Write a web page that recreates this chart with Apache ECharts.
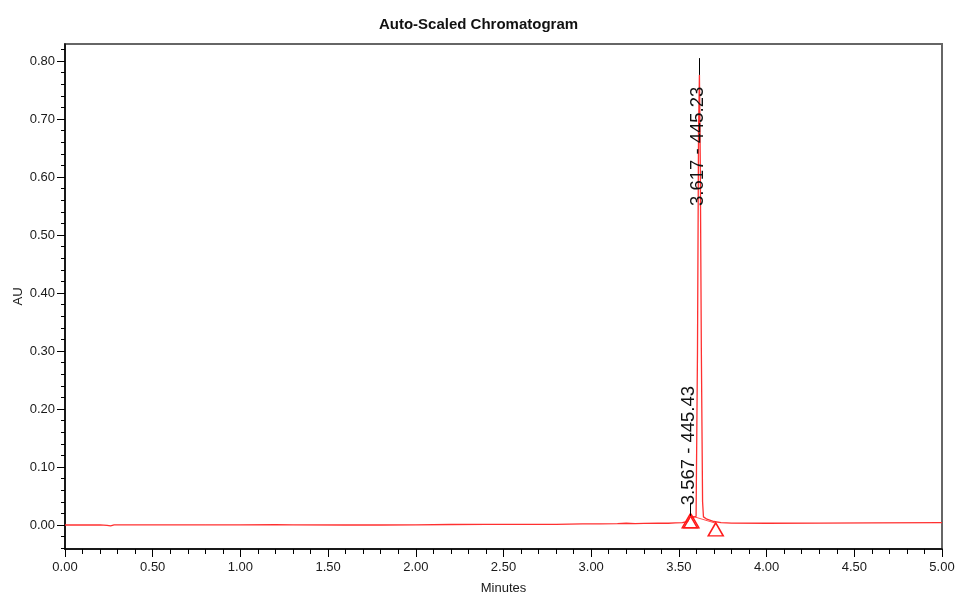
<!DOCTYPE html>
<html>
<head>
<meta charset="utf-8">
<script src="https://cdn.jsdelivr.net/npm/echarts@6/dist/echarts.min.js"></script>
<style>
  html, body { margin: 0; padding: 0; background: #fff; }
  #chart { width: 957px; height: 594px; }
</style>
</head>
<body>
<div id="chart"></div>
<script>
// chromatogram trace (minutes, AU)
var trace = [
    [0.00, 0.0000], [0.10, 0.0000], [0.20, 0.0002], [0.24, -0.0005], [0.26, -0.0015],
    [0.28, 0.0002], [0.40, 0.0003], [0.60, 0.0002], [0.80, 0.0001], [1.00, 0.0003],
    [1.20, 0.0006], [1.30, 0.0002], [1.60, 0.0000], [1.80, 0.0000], [2.00, 0.0002],
    [2.20, 0.0008], [2.40, 0.0010], [2.60, 0.0012], [2.80, 0.0012], [2.95, 0.0020],
    [3.05, 0.0018], [3.15, 0.0022], [3.20, 0.0030], [3.25, 0.0022], [3.30, 0.0028],
    [3.38, 0.0032], [3.44, 0.0030], [3.48, 0.0036], [3.52, 0.0040], [3.55, 0.0060],
    [3.567, 0.0165], [3.58, 0.0130], [3.598, 0.0150], [3.606, 0.30], [3.612, 0.68],
    [3.617, 0.776], [3.622, 0.62], [3.628, 0.30], [3.635, 0.040], [3.640, 0.014],
    [3.66, 0.010], [3.70, 0.006], [3.74, 0.004], [3.80, 0.0032], [4.00, 0.0030],
    [4.30, 0.0032], [4.60, 0.0035], [5.00, 0.0040]
];

// integration baseline of the peaks
var baseline = [[3.567, 0.0160], [3.71, 0.0030]];

// peak start / end markers
var peakMarks = [[3.562, 0.0065], [3.571, 0.0065], [3.710, -0.0075]];

// peak labels (retention time - wavelength)
var peakNames = ['3.617 - 445.23', '3.567 - 445.43'];
var peakTimes = [3.617, 3.567];
var peakTops = [0.776, 0.016];
var peakTicks = [0.805, 0.038];
var labelAnchors = [[3.611, 0.550], [3.556, 0.034]];

var xTicks = [0.00, 0.50, 1.00, 1.50, 2.00, 2.50, 3.00, 3.50, 4.00, 4.50, 5.00];
var yTicks = [0.00, 0.10, 0.20, 0.30, 0.40, 0.50, 0.60, 0.70, 0.80];
var yMinorTicks = [-0.04, -0.02, 0.02, 0.04, 0.06, 0.08, 0.12, 0.14, 0.16, 0.18,
    0.22, 0.24, 0.26, 0.28, 0.32, 0.34, 0.36, 0.38, 0.42, 0.44, 0.46, 0.48,
    0.52, 0.54, 0.56, 0.58, 0.62, 0.64, 0.66, 0.68, 0.72, 0.74, 0.76, 0.78, 0.82];

var textColor = '#1a1a1a';
var fontFamily = 'Liberation Sans, Arial, sans-serif';

var myChart = echarts.init(document.getElementById('chart'));

var markLines = [];
for (var i = 0; i < peakTimes.length; i++) {
    markLines.push([
        { coord: [peakTimes[i], peakTops[i]] },
        { coord: [peakTimes[i], peakTicks[i]] }
    ]);
}

var labelData = [];
for (var j = 0; j < peakNames.length; j++) {
    labelData.push({ value: labelAnchors[j], name: peakNames[j] });
}

var option = {
    animation: false,
    textStyle: { fontFamily: fontFamily },
    title: {
        text: 'Auto-Scaled Chromatogram',
        left: 'center',
        top: 12,
        textStyle: {
            fontSize: 15,
            fontWeight: 'bold',
            color: '#111111',
            fontFamily: fontFamily
        }
    },
    grid: {
        left: 65,
        right: 15,
        top: 44,
        bottom: 45,
        outerBoundsMode: 'none',
        containLabel: false,
        show: true,
        borderColor: '#666666',
        borderWidth: 2,
        backgroundColor: '#ffffff'
    },
    xAxis: {
        type: 'value',
        min: 0,
        max: 5,
        interval: 0.5,
        name: 'Minutes',
        nameLocation: 'middle',
        nameGap: 33,
        nameMoveOverlap: false,
        nameTextStyle: { fontSize: 13, color: textColor },
        splitLine: { show: false },
        axisLine: { onZero: false, lineStyle: { color: '#000000', width: 1.5 } },
        axisTick: { length: 8, lineStyle: { color: '#000000' } },
        minorTick: { show: true, splitNumber: 5, length: 5, lineStyle: { color: '#000000' } },
        axisLabel: {
            fontSize: 13,
            color: textColor,
            margin: 12,
            formatter: function (v) { return v.toFixed(2); }
        }
    },
    yAxis: [
        {
            type: 'value',
            min: -0.0414,
            max: 0.8293,
            name: 'AU',
            nameLocation: 'middle',
            nameGap: 40,
            nameMoveOverlap: false,
            nameTextStyle: { fontSize: 13, color: textColor },
            splitLine: { show: false },
            axisLine: { show: true, onZero: false, lineStyle: { color: '#000000', width: 1.5 } },
            axisTick: { show: true, length: 8, customValues: yTicks, lineStyle: { color: '#000000' } },
            axisLabel: {
                fontSize: 13,
                color: textColor,
                margin: 10,
                customValues: yTicks,
                formatter: function (v) { return v.toFixed(2); }
            }
        },
        {
            type: 'value',
            position: 'left',
            min: -0.0414,
            max: 0.8293,
            splitLine: { show: false },
            axisLine: { show: false, onZero: false },
            axisTick: { show: true, length: 4, customValues: yMinorTicks, lineStyle: { color: '#000000' } },
            axisLabel: { show: false }
        }
    ],
    series: [
        {
            name: 'AU',
            type: 'line',
            data: trace,
            symbol: 'none',
            lineStyle: { color: '#ff3030', width: 1.3 },
            z: 3,
            markLine: {
                silent: true,
                symbol: ['none', 'none'],
                label: { show: false },
                lineStyle: { color: '#000000', width: 1, type: 'solid' },
                data: markLines
            }
        },
        {
            name: 'baseline',
            type: 'line',
            data: baseline,
            symbol: 'none',
            lineStyle: { color: '#ff5050', width: 1 },
            z: 2
        },
        {
            name: 'marks',
            type: 'scatter',
            data: peakMarks,
            symbol: 'triangle',
            symbolSize: [15, 13],
            itemStyle: { color: 'rgba(255,255,255,0)', borderColor: '#ff1a1a', borderWidth: 1.5, opacity: 1 },
            z: 4
        },
        {
            name: 'labels',
            type: 'scatter',
            data: labelData,
            symbolSize: 0,
            z: 5,
            itemStyle: { opacity: 1 },
            label: {
                show: true,
                position: [0, 0],
                rotate: 90,
                align: 'left',
                verticalAlign: 'middle',
                fontSize: 18.5,
                color: '#111111',
                opacity: 1,
                textBorderWidth: 0,
                formatter: function (p) { return p.name; }
            }
        }
    ]
};

myChart.setOption(option);
window.onresize = myChart.resize;
</script>
</body>
</html>
